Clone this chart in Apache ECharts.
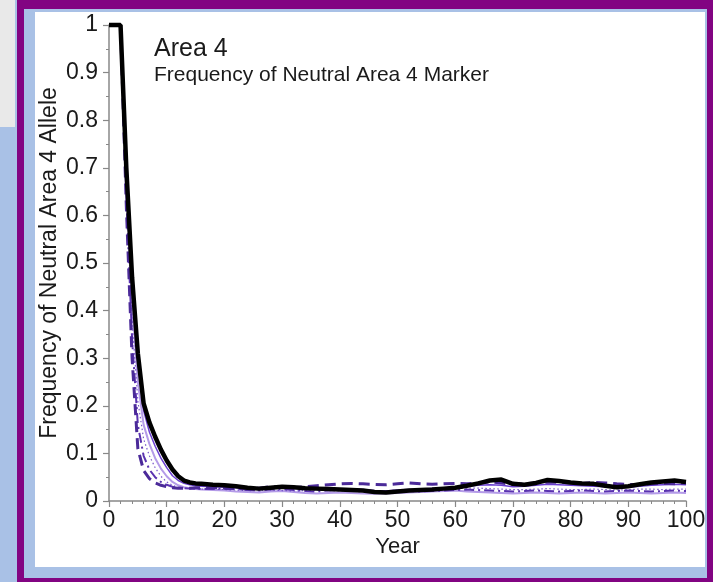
<!DOCTYPE html>
<html><head><meta charset="utf-8">
<script src="https://cdn.jsdelivr.net/npm/echarts@6/dist/echarts.min.js"></script>
<style>
html,body{margin:0;padding:0;width:718px;height:582px;overflow:hidden;background:#a9c1e6;}
#gray{position:absolute;left:0;top:0;width:15px;height:127px;background:#e9e9e9;}
#frame{position:absolute;left:17px;top:0;width:696px;height:582px;background:#820482;}
#inner{position:absolute;left:24px;top:9px;width:683px;height:569px;background:#a9c1e6;}
#white{position:absolute;left:35px;top:12px;width:670px;height:555px;background:#ffffff;}
#rightw{position:absolute;left:713px;top:0;width:5px;height:582px;background:#ffffff;}
#chart{position:absolute;left:0;top:0;width:718px;height:582px;}
</style></head>
<body>
<div id="gray"></div><div id="frame"></div><div id="inner"></div><div id="white"></div><div id="rightw"></div>
<div id="chart"></div>
<script>
const years = [0,1,2,3,4,5,6,7,8,9,10,11,12,13,14,15,16,
  18,20,22,24,26,28,30,32,34,36,38,40,42,44,46,48,50,52,54,56,58,60,62,64,66,68,70,72,74,76,78,80,82,84,86,88,90,92,94,96,98,100];

const blackSolid = [1,1,1,0.7,0.47,0.31,0.205,0.165,0.135,0.108,0.085,0.066,0.052,0.043,0.039,0.037,0.036,
  0.034,0.033,0.031,0.028,0.026,0.028,0.03,0.029,0.027,0.026,0.025,0.024,0.023,0.022,0.019,0.018,0.02,0.022,0.023,0.024,0.026,0.028,0.032,0.037,0.043,0.045,0.036,0.034,0.038,0.044,0.042,0.039,0.037,0.036,0.032,0.029,0.031,0.035,0.039,0.041,0.043,0.04];

const purpleDashed = [1,1,1,0.62,0.3,0.11,0.064,0.047,0.038,0.033,0.03,0.028,0.027,0.027,0.027,0.028,0.028,
  0.028,0.027,0.026,0.025,0.027,0.03,0.029,0.028,0.03,0.032,0.034,0.036,0.037,0.036,0.035,0.034,0.036,0.038,0.036,0.035,0.036,0.037,0.036,0.038,0.04,0.038,0.035,0.036,0.038,0.04,0.039,0.038,0.037,0.039,0.038,0.036,0.035,0.034,0.036,0.037,0.036,0.038];

const purpleThin = [1,1,1,0.69,0.45,0.29,0.19,0.145,0.115,0.09,0.07,0.053,0.043,0.037,0.034,0.032,0.031,
  0.03,0.029,0.028,0.026,0.025,0.027,0.028,0.027,0.025,0.024,0.023,0.024,0.025,0.024,0.022,0.021,0.023,0.024,0.025,0.026,0.027,0.029,0.031,0.033,0.034,0.033,0.03,0.031,0.033,0.035,0.034,0.033,0.032,0.031,0.03,0.028,0.029,0.031,0.033,0.034,0.035,0.034];

const purpleDotted = [1,1,1,0.66,0.38,0.21,0.13,0.095,0.07,0.052,0.04,0.033,0.029,0.027,0.026,0.025,0.025,
  0.025,0.024,0.023,0.022,0.022,0.023,0.022,0.021,0.022,0.023,0.022,0.021,0.022,0.023,0.022,0.021,0.022,0.023,0.024,0.024,0.025,0.026,0.027,0.027,0.026,0.025,0.024,0.024,0.025,0.026,0.025,0.024,0.024,0.025,0.024,0.023,0.024,0.025,0.025,0.024,0.025,0.025];

const purpleDashDot = [1,1,1,0.64,0.34,0.16,0.095,0.066,0.05,0.04,0.034,0.03,0.028,0.027,0.026,0.026,0.025,
  0.025,0.026,0.025,0.023,0.022,0.024,0.025,0.023,0.021,0.02,0.022,0.023,0.021,0.02,0.019,0.02,0.022,0.021,0.02,0.021,0.022,0.023,0.024,0.023,0.022,0.021,0.02,0.021,0.022,0.021,0.02,0.021,0.022,0.021,0.02,0.021,0.022,0.021,0.02,0.021,0.022,0.021];

const lightPurple = [1,1,1,0.67,0.42,0.25,0.16,0.12,0.09,0.068,0.052,0.04,0.033,0.029,0.027,0.025,0.024,
  0.023,0.022,0.02,0.019,0.018,0.02,0.021,0.019,0.017,0.016,0.017,0.018,0.017,0.016,0.015,0.016,0.017,0.018,0.019,0.02,0.021,0.022,0.02,0.019,0.018,0.017,0.016,0.017,0.018,0.017,0.016,0.017,0.018,0.017,0.016,0.017,0.018,0.017,0.016,0.017,0.018,0.017];

const titleText = 'Area 4';
const subtitleText = 'Frequency of Neutral Area 4 Marker';
const xName = 'Year';
const yName = 'Frequency of Neutral Area 4 Allele';

const FONT = '"Liberation Sans", Arial, Helvetica, sans-serif';
const pairs = arr => years.map((y, i) => [y, arr[i]]);

function mk(name, arr, color, width, type, z) {
  return {
    name, type: 'line', data: pairs(arr), showSymbol: false, symbol: 'none',
    clip: false, z: z, animation: false,
    lineStyle: { color, width, type }
  };
}

const chart = echarts.init(document.getElementById('chart'), null, { renderer: 'canvas' });
chart.setOption({
  backgroundColor: 'transparent',
  animation: false,
  title: {
    text: titleText, subtext: subtitleText, left: 149, top: 32, itemGap: 3,
    textStyle: { fontFamily: FONT, fontSize: 25, fontWeight: 'normal', color: '#1a1a1a' },
    subtextStyle: { fontFamily: FONT, fontSize: 21, color: '#1a1a1a' }
  },
  grid: { left: 109, top: 25, width: 577, height: 476, containLabel: false },
  xAxis: {
    type: 'value', min: 0, max: 100, interval: 10,
    name: xName, nameLocation: 'middle', nameGap: 35, nameMoveOverlap: false,
    nameTextStyle: { fontFamily: FONT, fontSize: 22, color: '#1a1a1a' },
    axisLine: { show: true, lineStyle: { color: '#888', width: 1.5 } },
    axisTick: { show: true, length: 6, lineStyle: { color: '#888', width: 1.2 } },
    minorTick: { show: true, splitNumber: 5, length: 3, lineStyle: { color: '#888', width: 1 } },
    splitLine: { show: false },
    axisLabel: { fontFamily: FONT, fontSize: 23, color: '#1a1a1a', margin: 8 }
  },
  yAxis: {
    type: 'value', min: 0, max: 1, interval: 0.1,
    name: yName, nameLocation: 'middle', nameGap: 48, nameRotate: 90, nameMoveOverlap: false,
    nameTextStyle: { fontFamily: FONT, fontSize: 23, color: '#1a1a1a' },
    axisLine: { show: true, lineStyle: { color: '#888', width: 1.5 } },
    axisTick: { show: true, length: 6, lineStyle: { color: '#888', width: 1.2 } },
    minorTick: { show: true, splitNumber: 2, length: 3, lineStyle: { color: '#888', width: 1 } },
    splitLine: { show: false },
    axisLabel: { fontFamily: FONT, fontSize: 23, color: '#1a1a1a', margin: 11,
      formatter: v => String(Math.round(v * 10) / 10) }
  },
  series: [
    mk('F', lightPurple, '#b49be8', 2, 'solid', 2),
    mk('D', purpleDotted, '#7a58cc', 1.2, [1.5, 2.5], 3),
    mk('E', purpleDashDot, '#5a32b0', 2, [10, 4, 2, 4], 4),
    mk('C', purpleThin, '#6a3fd0', 1.5, 'solid', 5),
    mk('B', purpleDashed, '#4b2a99', 3, [11, 6], 6),
    mk('A', blackSolid, '#000000', 4.5, 'solid', 7)
  ]
});
</script>
</body></html>
